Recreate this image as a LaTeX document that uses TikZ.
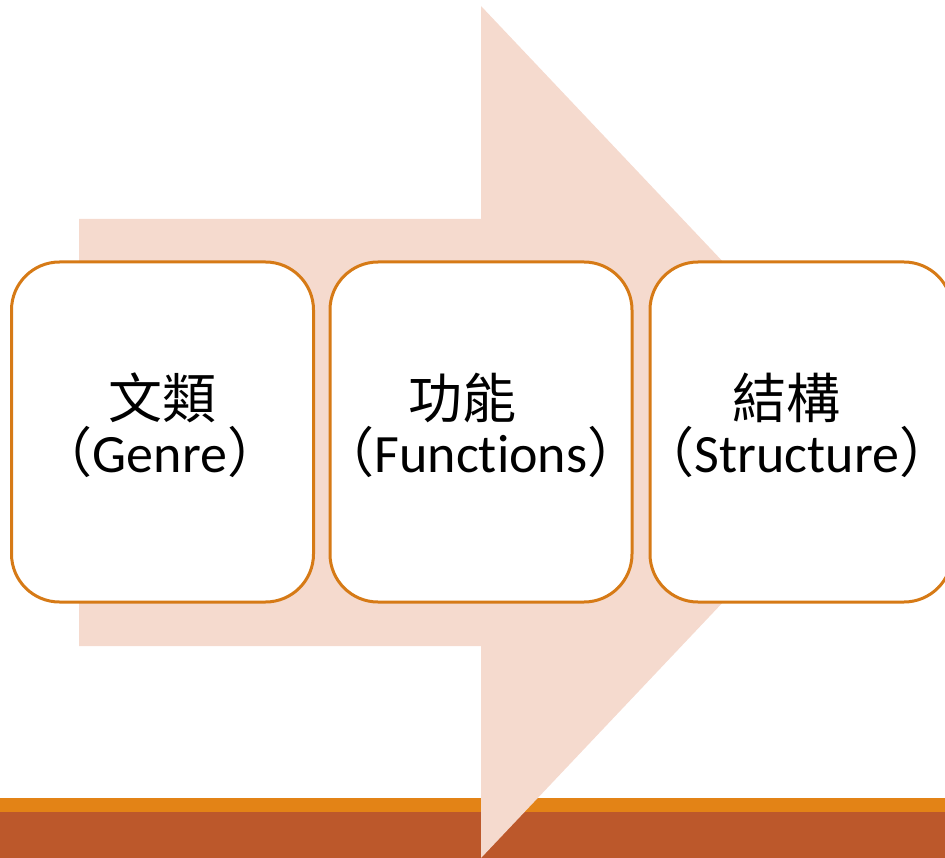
\documentclass[tikz,border=0pt]{standalone}
\usepackage{fontspec}
\setmainfont{Carlito}[Ligatures={NoCommon,NoRare,NoContextual}]
\newfontfamily\cjk{Noto Sans CJK TC}
\newcommand\myopen{\makebox[0.5em][r]{\cjk （}}
\newcommand\myclose{\makebox[0.5em][l]{\cjk ）}}
\definecolor{peach}{RGB}{245,218,206}
\definecolor{barorange}{RGB}{227,131,22}
\definecolor{rust}{RGB}{188,88,43}
\definecolor{boxorange}{RGB}{214,122,22}
\tikzset{
  stagebox/.style={draw=boxorange, line width=3pt, fill=white, rounded corners=48pt,
    minimum width=302pt, minimum height=340pt, inner sep=0pt},
  cjkline/.style={font=\fontsize{54}{60}\selectfont\cjk, inner sep=0pt, anchor=center},
  latline/.style={font=\fontsize{54}{60}\selectfont, inner sep=0pt, anchor=base}
}
\begin{document}
\begin{tikzpicture}[x=1pt,y=-1pt]
\useasboundingbox (0,0) rectangle (945,858);
\clip (0,0) rectangle (945,858);
% bottom bars
\fill[barorange] (0,798) rectangle (945,812);
\fill[rust] (0,812) rectangle (945,858);
% big arrow
\fill[peach] (79,219) -- (481,219) -- (481,6) -- (884,432) -- (481,858) -- (481,646) -- (79,646) -- cycle;
% boxes
\node[stagebox] (b1) at (162.5,432) {};
\node[stagebox] (b2) at (481,432) {};
\node[stagebox] (b3) at (801,432) {};
% texts
\node[cjkline] (t1a) at (162,398) {文類};
\node[latline] (t1b) at (160,472) {\myopen Genre\myclose};
\node[cjkline] (t2a) at (462,398) {功能};
\node[latline] (t2b) at (481,472) {\myopen Funct\kern0pt ions\myclose};
\node[cjkline] (t3a) at (786,398) {結構};
\node[latline] (t3b) at (797,472) {\myopen Structure\myclose};
\end{tikzpicture}
\end{document}
